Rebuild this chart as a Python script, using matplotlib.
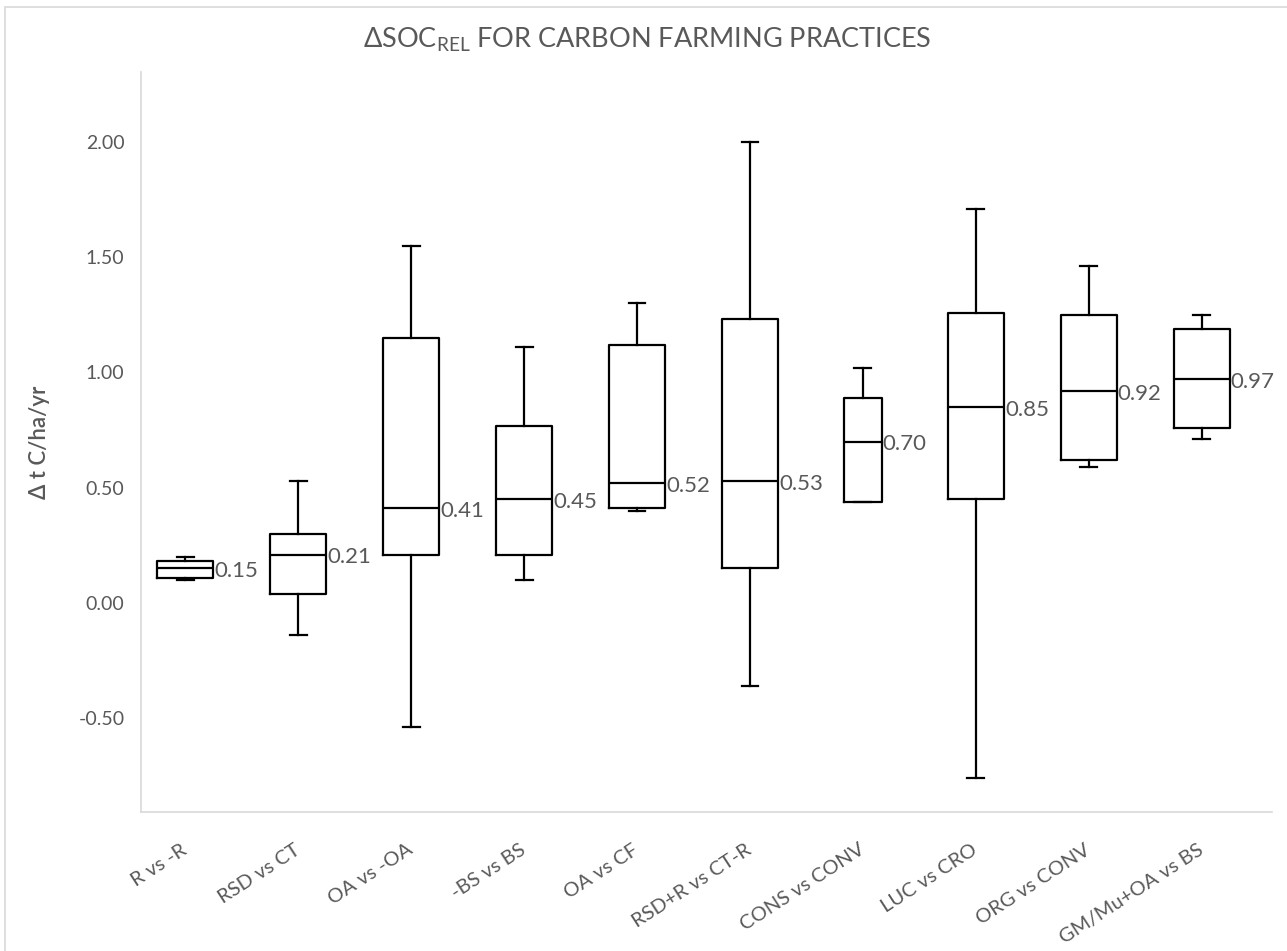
import matplotlib.pyplot as plt
import matplotlib.transforms as mtransforms
from matplotlib.patches import Rectangle

plt.rcParams['font.family'] = ['Lato', 'DejaVu Sans']

# Data (t C/ha/yr)
practices = ['R vs -R', 'RSD vs CT', 'OA vs -OA', '-BS vs BS', 'OA vs CF',
             'RSD+R vs CT-R', 'CONS vs CONV', 'LUC vs CRO', 'ORG vs CONV',
             'GM/Mu+OA vs BS']
whisker_low = [0.10, -0.14, -0.54, 0.10, 0.40, -0.36, 0.44, -0.76, 0.59, 0.71]
q1 = [0.11, 0.04, 0.21, 0.21, 0.41, 0.15, 0.44, 0.45, 0.62, 0.76]
median = [0.15, 0.21, 0.41, 0.45, 0.52, 0.53, 0.70, 0.85, 0.92, 0.97]
q3 = [0.18, 0.30, 1.15, 0.77, 1.12, 1.23, 0.89, 1.26, 1.25, 1.19]
whisker_high = [0.20, 0.53, 1.55, 1.11, 1.30, 2.00, 1.02, 1.71, 1.46, 1.25]

grey = '#595959'

fig = plt.figure(figsize=(12.87, 9.51), dpi=100)
ax = fig.add_axes([0.1096, 0.1462, 0.8787, 0.7781])

# chart border (Excel chart area)
fig.patches.append(Rectangle((0.004, -0.02), 1.02, 1.0126, transform=fig.transFigure,
                             fill=False, edgecolor='#d9d9d9', linewidth=1.2))

stats = []
for i, name in enumerate(practices):
    stats.append(dict(label=name, whislo=whisker_low[i], q1=q1[i], med=median[i],
                      q3=q3[i], whishi=whisker_high[i]))

positions = list(range(len(practices)))
widths = [0.5] * len(practices)
widths[6] = 0.34

line = dict(color='black', linewidth=1.6)
ax.bxp(stats, positions=positions, widths=widths, showfliers=False,
       capwidths=0.15, boxprops=line, whiskerprops=line, capprops=line,
       medianprops=line, manage_ticks=False)

# median value labels
for i, m in enumerate(median):
    ax.annotate(f'{m:.2f}', xy=(positions[i] + widths[i] / 2, m),
                xytext=(0.5, -2), textcoords='offset points',
                ha='left', va='center', fontsize=16, color=grey)

ax.set_xlim(-0.39, 9.62)
ax.set_ylim(-0.907, 2.304)
ax.set_yticks([-0.5, 0.0, 0.5, 1.0, 1.5, 2.0])
ax.set_yticklabels([f'{v:.2f}' for v in ax.get_yticks()], fontsize=14, color=grey)

ax.set_xticks(positions)
ax.set_xticklabels(practices, rotation=33, ha='right', va='center',
                   rotation_mode='anchor', fontsize=14.5, color=grey)
offset = mtransforms.ScaledTranslation(0.15, 0, fig.dpi_scale_trans)
for lab in ax.get_xticklabels():
    lab.set_transform(lab.get_transform() + offset)

ax.tick_params(axis='x', length=0, pad=26)
ax.tick_params(axis='y', length=0, pad=12)

for s in ['top', 'right']:
    ax.spines[s].set_visible(False)
for s in ['left', 'bottom']:
    ax.spines[s].set_color('#d9d9d9')
    ax.spines[s].set_linewidth(1.2)

ax.set_ylabel('Δ t C/ha/yr', fontsize=16, color=grey, fontweight='semibold', labelpad=20)
fig.text(0.503, 0.958, 'ΔSOC$_{\\mathregular{REL}}$ FOR CARBON FARMING PRACTICES',
         ha='center', va='center', fontsize=19.5, color=grey)

fig.savefig('out.png', dpi=100)
